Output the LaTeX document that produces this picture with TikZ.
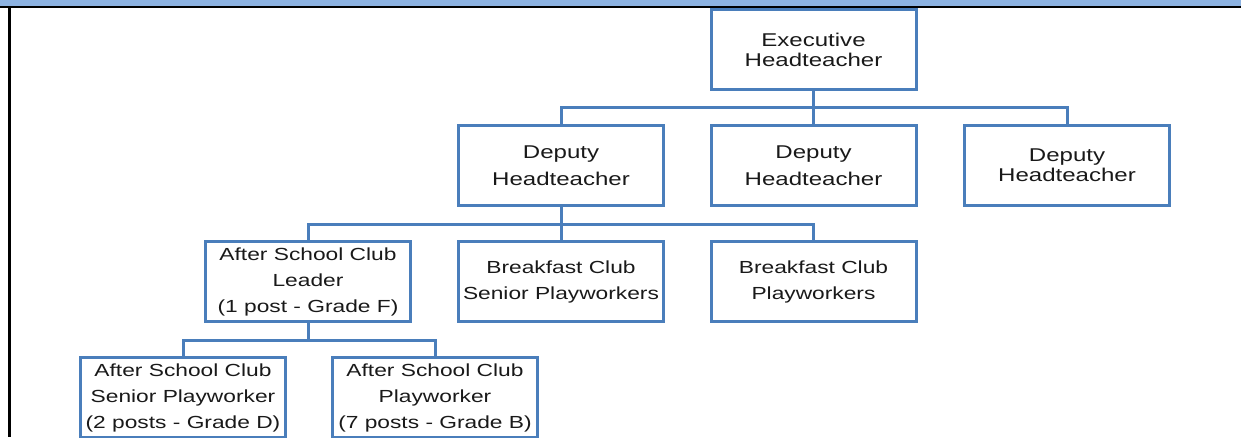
\documentclass[tikz,border=0pt]{standalone}
\usepackage{fontspec}
\newfontfamily\orgfont{Liberation Sans}[FakeStretch=1.3]
\definecolor{boxblue}{HTML}{4A7EBB}
\definecolor{bandblue}{HTML}{8DB3E2}
\begin{document}
\begin{tikzpicture}[x=1pt,y=-1pt,
  orgbox/.style={draw=boxblue, line width=3pt, minimum width=205pt, minimum height=80pt,
    inner sep=0pt, align=center, text=black!90},
  toptext/.style={font=\orgfont\fontsize{18.5}{20}\selectfont},
  widetext/.style={font=\orgfont\fontsize{18.5}{27}\selectfont},
  lowtext/.style={font=\orgfont\fontsize{17.5}{26}\selectfont},
  conn/.style={draw=boxblue, line width=3pt}]
\useasboundingbox (0,0) rectangle (1241,437);
\fill[bandblue] (0,0) rectangle (1241,5.8);
\draw[black, line width=2pt] (0,6.6) -- (1241,6.6);
\draw[black, line width=2.5pt] (9.7,6) -- (9.7,437);

\node[orgbox, toptext] (exec) at (813.5,49.5) {Executive\\Headteacher};
\node[orgbox, widetext] (d1) at (561,165.5) {Deputy\\Headteacher};
\node[orgbox, widetext] (d2) at (813.5,165.5) {Deputy\\Headteacher};
\node[orgbox, toptext] (d3) at (1067,165.5) {Deputy\\Headteacher};
\node[orgbox, lowtext] (lead) at (308,281.5) {After School Club\\Leader\\(1 post - Grade F)};
\node[orgbox, lowtext] (bsp) at (561,281.5) {Breakfast Club\\Senior Playworkers};
\node[orgbox, lowtext] (bp) at (813.5,281.5) {Breakfast Club\\Playworkers};
\node[orgbox, lowtext] (ascsp) at (183,397.5) {After School Club\\Senior Playworker\\(2 posts - Grade D)};
\node[orgbox, lowtext] (ascp) at (435,397.5) {After School Club\\Playworker\\(7 posts - Grade B)};

\coordinate (j1) at (813.5,107);
\coordinate (j2) at (561,224);
\coordinate (j3) at (308,340);

\draw[conn] (exec.south) -- (d2.north);
\draw[conn] (d1.north) |- (j1) -| (d3.north);
\draw[conn] (d1.south) -- (bsp.north);
\draw[conn] (lead.north) |- (j2) -| (bp.north);
\draw[conn] (lead.south) -- (j3);
\draw[conn] (ascsp.north) |- (j3) -| (ascp.north);
\end{tikzpicture}
\end{document}
